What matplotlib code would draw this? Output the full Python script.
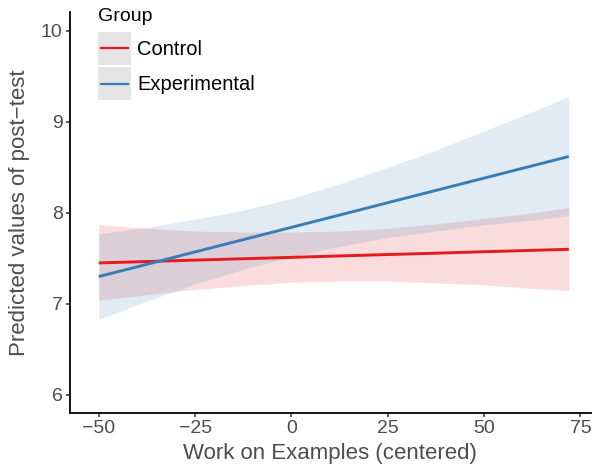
import matplotlib
matplotlib.use("Agg")
import matplotlib.pyplot as plt
from matplotlib.patches import Rectangle
from matplotlib.lines import Line2D

plt.rcParams['font.family'] = ['Liberation Sans', 'DejaVu Sans']

# work on examples (centered)
x = [-50, -37.5, -25, -12.5, 0, 12.5, 25, 37.5, 50, 62.5, 72]

# Control group: fit and 95% band
ctrl_fit = [7.450, 7.465, 7.481, 7.496, 7.511, 7.527, 7.542, 7.557, 7.573, 7.588, 7.600]
ctrl_lo = [7.04, 7.10, 7.16, 7.20, 7.24, 7.25, 7.25, 7.23, 7.21, 7.17, 7.15]
ctrl_hi = [7.87, 7.83, 7.80, 7.79, 7.79, 7.80, 7.83, 7.88, 7.94, 8.00, 8.06]

# Experimental group: fit and 95% band
exp_fit = [7.30, 7.435, 7.571, 7.706, 7.841, 7.976, 8.112, 8.247, 8.382, 8.517, 8.620]
exp_lo = [6.83, 7.03, 7.22, 7.38, 7.52, 7.63, 7.73, 7.80, 7.87, 7.92, 7.97]
exp_hi = [7.77, 7.84, 7.93, 8.03, 8.16, 8.32, 8.50, 8.69, 8.90, 9.11, 9.28]

groups = ['Control', 'Experimental']
colors = ['#E41A1C', '#377EB8']


class KeyHandler:
    # grey key box with the group line across the middle (ggplot style)
    def legend_artist(self, legend, orig_handle, fontsize, handlebox):
        x0, y0 = handlebox.xdescent, handlebox.ydescent
        w, h = handlebox.width, handlebox.height
        box = Rectangle((-x0, -y0), w, h, facecolor='#E5E5E5', edgecolor='none',
                        transform=handlebox.get_transform())
        ym = -y0 + h / 2
        ln = Line2D([-x0 + 0.08 * w, -x0 + 0.92 * w], [ym, ym],
                    color=orig_handle.get_color(), linewidth=1.6,
                    transform=handlebox.get_transform())
        handlebox.add_artist(box)
        handlebox.add_artist(ln)
        return box


fig = plt.figure(figsize=(5.92, 4.71), dpi=100)
ax = fig.add_axes([0.118, 0.123, 0.880, 0.852])

series = [(ctrl_fit, ctrl_lo, ctrl_hi), (exp_fit, exp_lo, exp_hi)]
lines = []
for (fit, lo, hi), col in zip(series, colors):
    ax.fill_between(x, lo, hi, color=col, alpha=0.15, linewidth=0)
for (fit, lo, hi), col in zip(series, colors):
    l, = ax.plot(x, fit, color=col, linewidth=2.1, solid_capstyle='butt')
    lines.append(l)

ax.set_xlim(-57.5, 77.7)
ax.set_ylim(5.8, 10.21)
ax.set_xticks([-50, -25, 0, 25, 50, 75])
ax.set_xticklabels(['\u221250', '\u221225', '0', '25', '50', '75'])
ax.set_yticks([6, 7, 8, 9, 10])

for s in ['top', 'right']:
    ax.spines[s].set_visible(False)
for s in ['left', 'bottom']:
    ax.spines[s].set_linewidth(1.3)
    ax.spines[s].set_color('black')
ax.tick_params(colors='#333333', labelcolor='#4D4D4D', labelsize=14, length=3.2, width=1.1, pad=2)

ax.set_xlabel('Work on Examples (centered)', fontsize=16, color='#4D4D4D', labelpad=4)
ax.set_ylabel('Predicted values of post\u2212test', fontsize=16, color='#4D4D4D', labelpad=8)

leg = ax.legend(lines, groups, title='Group', loc='upper left',
                bbox_to_anchor=(98 / 592, 1 - 8 / 471), bbox_transform=fig.transFigure,
                frameon=False, fontsize=14.5, title_fontsize=14, handlelength=1.64, handleheight=2.14,
                handletextpad=0.3, labelspacing=0.12, borderpad=0, borderaxespad=0,
                handler_map={Line2D: KeyHandler()})
leg._legend_box.align = 'left'
leg._legend_box.sep = 5  # a bit more room under the title

fig.savefig('out.png', dpi=100)
